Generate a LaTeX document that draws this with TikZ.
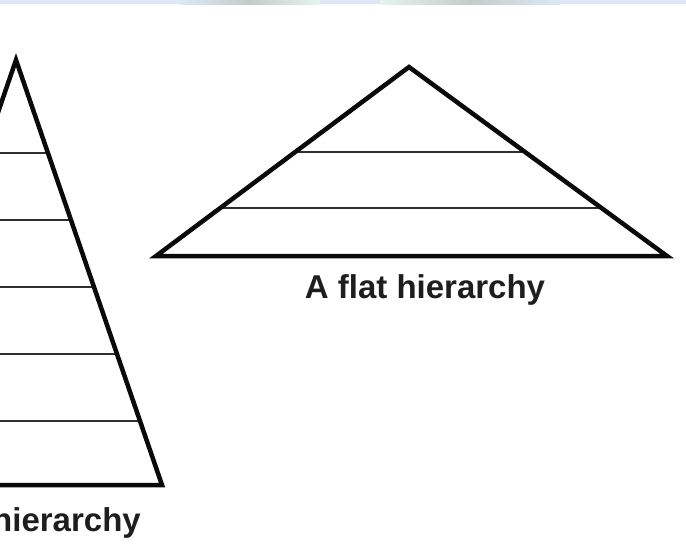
\documentclass[tikz,border=0pt]{standalone}
\usepackage{fontspec}
\setsansfont{Liberation Sans}
\usepackage{xcolor}
\definecolor{band}{HTML}{DCE8F6}
\definecolor{bandmid}{HTML}{E6F3F0}
\definecolor{bandgray}{HTML}{C4CCC8}
\definecolor{ink}{HTML}{0A0A0A}
\usetikzlibrary{calc}

\tikzset{
  outline/.style={draw=ink, line width=4.5pt, line join=miter},
  tier/.style={draw=ink!85, line width=2.4pt},
  caption/.style={font=\bfseries\sffamily\fontsize{33}{36}\selectfont, text=ink!92, inner sep=0pt}
}

\begin{document}
\begin{tikzpicture}[x=1pt, y=-1pt, every node/.style={font=\sffamily}]
  \useasboundingbox (0,0) rectangle (686,558);
  \clip (0,0) rectangle (686,558);

  % strip of the window above
  \fill[band] (0,0) rectangle (686,4);
  \shade[left color=band, right color=bandgray] (180,0) rectangle (250,4);
  \shade[left color=bandgray, right color=bandmid] (250,0) rectangle (320,4);
  \shade[left color=bandmid, right color=bandgray] (380,0) rectangle (470,4);
  \shade[left color=bandgray, right color=band] (470,0) rectangle (560,4);

  % the steep one, cut at the left edge
  \coordinate (tallTop) at (16,60);
  \coordinate (tallL) at (-130,485);
  \coordinate (tallR) at (162,485);
  \foreach \t in {0.219, 0.376, 0.534, 0.692, 0.849}
    \draw[tier] ($(tallTop)!\t!(tallL)$) -- ($(tallTop)!\t!(tallR)$);
  \draw[outline] (tallTop) -- (tallR) -- (tallL) -- cycle;
  \node[caption, anchor=base east] (tallCap) at (141,531) {hierarchy};

  % the flat one
  \coordinate (flatTop) at (409,67);
  \coordinate (flatL) at (156,256);
  \coordinate (flatR) at (667,256);
  \foreach \t in {0.45, 0.745}
    \draw[tier] ($(flatTop)!\t!(flatL)$) -- ($(flatTop)!\t!(flatR)$);
  \draw[outline] (flatTop) -- (flatR) -- (flatL) -- cycle;
  \node[caption, anchor=base] (flatCap) at (425,298) {A flat hierarchy};
\end{tikzpicture}
\end{document}
